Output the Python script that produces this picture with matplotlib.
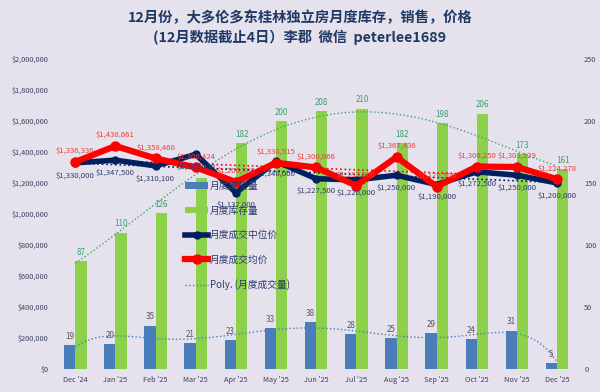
import numpy as np
import matplotlib
matplotlib.use('Agg')
import matplotlib.pyplot as plt
from matplotlib.ticker import FuncFormatter

plt.rcParams['font.family'] = ['Noto Sans CJK SC', 'DejaVu Sans']

# data
months = ["Dec '24", "Jan '25", "Feb '25", "Mar '25", "Apr '25", "May '25", "Jun '25",
          "Jul '25", "Aug '25", "Sep '25", "Oct '25", "Nov '25", "Dec '25"]
sales = [19, 20, 35, 21, 23, 33, 38, 28, 25, 29, 24, 31, 5]
inventory = [87, 110, 126, 154, 182, 200, 208, 210, 182, 198, 206, 173, 161]
median_price = [1330000, 1347500, 1310100, 1385000, 1137000, 1340000, 1227500,
                1220000, 1250000, 1190000, 1272500, 1250000, 1200000]
avg_price = [1336336, 1438661, 1358460, 1300424, 1206705, 1330515, 1300066,
             1183000, 1367436, 1176500, 1306250, 1303129, 1224278]

bg = '#E5E2ED'
navy = '#002060'
red = '#FF0000'
blue = '#4A7EBB'
green = '#8DD14B'

fig = plt.figure(figsize=(6, 3.92), dpi=100, facecolor=bg)
ax = fig.add_axes([0.092, 0.0587, 0.87, 0.7908])
ax2 = ax.twinx()
ax2.set_facecolor(bg)
ax.set_zorder(ax2.get_zorder() + 1)
ax.patch.set_visible(False)

x = np.arange(len(months))
w = 0.28

# bars on the count axis
b1 = ax2.bar(x - w / 2, sales, w, color=blue, label='月度成交量')
b2 = ax2.bar(x + w / 2, inventory, w, color=green, label='月度库存量')
for i in range(len(x)):
    ax2.annotate(str(sales[i]), (x[i] - w / 2, sales[i]), xytext=(0, 3),
                 textcoords='offset points', ha='center', va='bottom',
                 fontsize=5.8, color='#595959')
    ax2.annotate(str(inventory[i]), (x[i] + w / 2, inventory[i]), xytext=(0, 3),
                 textcoords='offset points', ha='center', va='bottom',
                 fontsize=5.8, color='#3FA06A')

# trend lines
xs = np.linspace(0, len(x) - 1, 200)
ps = np.polyfit(x, sales, 6)
tr_sales, = ax2.plot(xs, np.polyval(ps, xs), ':', color=blue, lw=1,
                     label='Poly. (月度成交量)')
pi = np.polyfit(x, inventory, 4)
ax2.plot(xs, np.polyval(pi, xs), ':', color='#3FA07A', lw=1)
pm = np.polyfit(x, median_price, 1)
ax.plot(x, np.polyval(pm, x), ':', color=navy, lw=1.2)
pa = np.polyfit(x, avg_price, 1)
ax.plot(x, np.polyval(pa, x), ':', color=red, lw=1.2)

# price lines
l1, = ax.plot(x, median_price, '-o', color=navy, lw=4, ms=5, label='月度成交中位价')
l2, = ax.plot(x, avg_price, '-o', color=red, lw=4.5, ms=6.5, label='月度成交均价')
for i in range(len(x)):
    ax.annotate('${:,}'.format(median_price[i]), (x[i], median_price[i]), xytext=(0, -6),
                textcoords='offset points', ha='center', va='top',
                fontsize=5.6, color='#2F3C6E')
    ax.annotate('${:,}'.format(avg_price[i]), (x[i], avg_price[i]), xytext=(0, 5),
                textcoords='offset points', ha='center', va='bottom',
                fontsize=5.6, color='#E8403C')

ax.set_xlim(-0.5, len(x) - 0.5)
ax.set_ylim(0, 2000000)
ax.set_yticks(np.arange(0, 2000001, 200000))
ax.yaxis.set_major_formatter(FuncFormatter(lambda v, p: '${:,.0f}'.format(v)))
ax2.set_ylim(0, 250)
ax2.set_yticks(np.arange(0, 251, 50))
ax.set_xticks(x)
ax.set_xticklabels(months)

for a in (ax, ax2):
    for s in a.spines.values():
        s.set_visible(False)
    a.tick_params(length=0, labelsize=5.3, colors='#3A4260', pad=5)

ax.legend(handles=[b1, b2, l1, l2, tr_sales], loc='upper left',
          bbox_to_anchor=(0.232, 0.635), frameon=False, fontsize=7,
          labelspacing=1.5, handlelength=2.4, handletextpad=0.15,
          labelcolor='#2F3C6E')

fig.text(0.5, 0.955, '12月份，大多伦多东桂林独立房月度库存，销售，价格',
         ha='center', va='center', fontsize=10.3, fontweight='bold', color='#1F3864')
fig.text(0.5, 0.905, '(12月数据截止4日）李郡  微信  peterlee1689',
         ha='center', va='center', fontsize=10.3, fontweight='bold', color='#1F3864')

fig.savefig('out.png', dpi=100, facecolor=bg)
